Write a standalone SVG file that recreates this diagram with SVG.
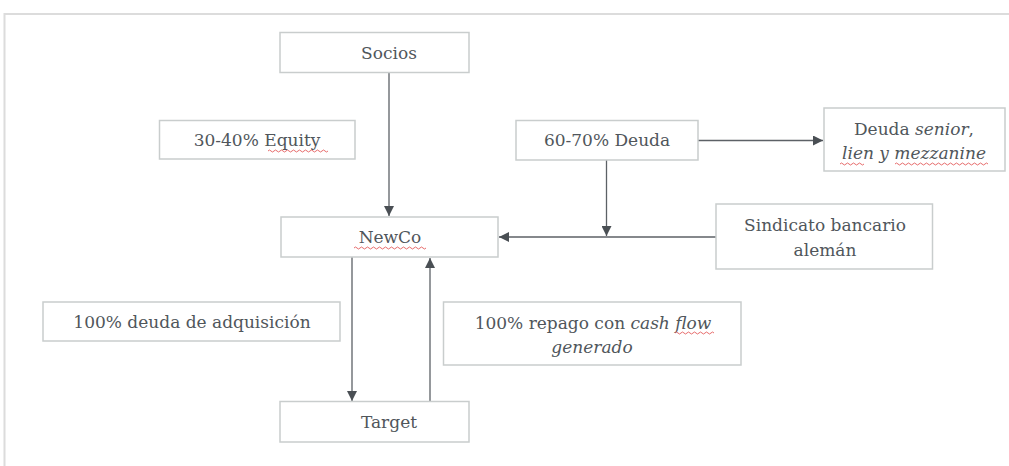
<svg xmlns="http://www.w3.org/2000/svg" width="1009" height="466" viewBox="0 0 1009 466">
<style>
.box{fill:#fff;stroke:#c9cdcd;stroke-width:1.5}
.t{font-family:"DejaVu Serif","Liberation Serif",serif;font-size:17px;fill:#50565b;text-anchor:middle}
.i{font-style:italic}
.ln{stroke:#5c6166;stroke-width:1.3;fill:none}
.sq{stroke:#e04848;stroke-width:0.8;fill:none}
</style>
<defs>
<marker id="ah" viewBox="0 0 10 10" refX="10" refY="5" markerWidth="10" markerHeight="10" markerUnits="userSpaceOnUse" orient="auto">
<path d="M0,0 L10,5 L0,10 Z" fill="#4a4f54"/>
</marker>
</defs>
<rect width="1009" height="466" fill="#fff"/>
<path d="M4.5,466 V14 H1009" stroke="#dcdcdc" stroke-width="2" fill="none"/>
<g id="connectors">
<line class="ln" x1="389" y1="73" x2="389" y2="216" marker-end="url(#ah)"/>
<line class="ln" x1="698" y1="140.5" x2="823" y2="140.5" marker-end="url(#ah)"/>
<line class="ln" x1="606.5" y1="160" x2="606.5" y2="236" marker-end="url(#ah)"/>
<line class="ln" x1="716" y1="237" x2="499" y2="237" marker-end="url(#ah)"/>
<line class="ln" x1="352" y1="257" x2="352" y2="401" marker-end="url(#ah)"/>
<line class="ln" x1="430" y1="402" x2="430" y2="258" marker-end="url(#ah)"/>
</g>
<g id="socios"><rect class="box" x="280" y="32.5" width="189" height="40"/><text class="t" x="389" y="59">Socios</text></g>
<g id="equity"><rect class="box" x="159.5" y="120.5" width="195.5" height="38.5"/><text class="t" x="257" y="146">30-40% Equity</text><path class="sq" d="M268,151 q1.5,-2 3,0 t3,0 t3,0 t3,0 t3,0 t3,0 t3,0 t3,0 t3,0 t3,0 t3,0 t3,0 t3,0 t3,0 t3,0 t3,0 t3,0 t3,0 t3,0 t3,0"/></g>
<g id="deuda"><rect class="box" x="516" y="120.5" width="182" height="39.5"/><text class="t" x="607" y="146">60-70% Deuda</text></g>
<g id="senior"><rect class="box" x="824" y="108" width="181" height="63"/><text class="t" x="914" y="135">Deuda <tspan class="i">senior</tspan>,</text><text class="t i" x="914" y="159">lien y mezzanine</text><path class="sq" d="M840,164 q1.5,-2 3,0 t3,0 t3,0 t3,0 t3,0 t3,0 t3,0 t3,0 M895,164 q1.5,-2 3,0 t3,0 t3,0 t3,0 t3,0 t3,0 t3,0 t3,0 t3,0 t3,0 t3,0 t3,0 t3,0 t3,0 t3,0 t3,0 t3,0 t3,0 t3,0 t3,0 t3,0 t3,0 t3,0 t3,0 t3,0 t3,0 t3,0 t3,0 t3,0 t3,0 t3,0"/></g>
<g id="sindicato"><rect class="box" x="716" y="204" width="216.5" height="65"/><text class="t" x="825" y="231">Sindicato bancario</text><text class="t" x="825" y="256">alemán</text></g>
<g id="newco"><rect class="box" x="281" y="217" width="217" height="40"/><text class="t" x="390" y="243">NewCo</text><path class="sq" d="M354,248 q1.5,-2 3,0 t3,0 t3,0 t3,0 t3,0 t3,0 t3,0 t3,0 t3,0 t3,0 t3,0 t3,0 t3,0 t3,0 t3,0 t3,0 t3,0 t3,0 t3,0 t3,0 t3,0 t3,0 t3,0 t3,0"/></g>
<g id="adquisicion"><rect class="box" x="43" y="302" width="297" height="39"/><text class="t" x="192" y="328">100% deuda de adquisición</text></g>
<g id="repago"><rect class="box" x="443.5" y="302" width="297.5" height="63"/><text class="t" x="593" y="329">100% repago con <tspan class="i">cash flow</tspan></text><text class="t i" x="592" y="353">generado</text><path class="sq" d="M675,333 q1.5,-2 3,0 t3,0 t3,0 t3,0 t3,0 t3,0 t3,0 t3,0 t3,0 t3,0 t3,0 t3,0 t3,0"/></g>
<g id="target"><rect class="box" x="280" y="401.5" width="189" height="40.5"/><text class="t" x="389" y="428">Target</text></g>
</svg>
